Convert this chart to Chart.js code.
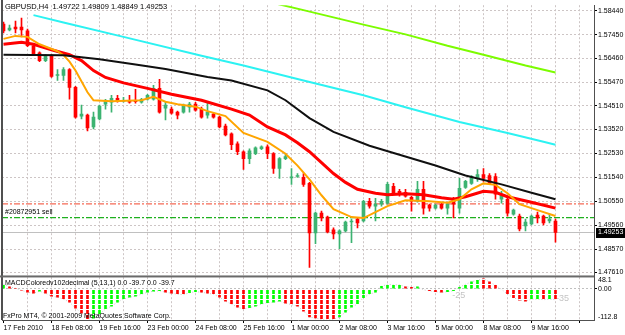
<!DOCTYPE html>
<html>
<head>
<meta charset="utf-8">
<script src="https://cdn.jsdelivr.net/npm/chart.js@4.4.1/dist/chart.umd.min.js"></script>
<style>
  html, body { margin: 0; padding: 0; background: #fff; }
  #wrap { width: 625px; height: 335px; }
  canvas { display: block; background: #fff; }
</style>
</head>
<body>
<div id="wrap"><canvas id="chart" width="625" height="335"></canvas></div>
<script>
// GBPUSD H4 candles with moving averages and a MACD pane, MT4 look

const timeLabels = ['17 Feb 2010', '18 Feb 08:00', '19 Feb 16:00', '23 Feb 00:00', '24 Feb 08:00', '25 Feb 16:00',
    '1 Mar 00:00', '2 Mar 08:00', '3 Mar 16:00', '5 Mar 00:00', '8 Mar 08:00', '9 Mar 16:00'];

const openP = [1.57889, 1.57643, 1.57766, 1.57766, 1.57602, 1.56987, 1.56700, 1.56372, 1.56577, 1.55757,
    1.55757, 1.56003, 1.55265, 1.54076, 1.54117, 1.53625, 1.53953, 1.54568, 1.54650, 1.54814,
    1.54691, 1.54732, 1.54732, 1.54650, 1.54773, 1.54773, 1.55224, 1.54404, 1.54363, 1.54240,
    1.54240, 1.54445, 1.54568, 1.54363, 1.54117, 1.54158, 1.54035, 1.53666, 1.53338, 1.52928,
    1.52600, 1.52313, 1.52518, 1.52723, 1.52805, 1.52518, 1.51903, 1.52313, 1.51514, 1.51575,
    1.51534, 1.51288, 1.49238, 1.50058, 1.49894, 1.49361, 1.49197, 1.49320, 1.49689, 1.49812,
    1.49730, 1.50550, 1.50345, 1.50427, 1.50468, 1.51165, 1.50960, 1.50919, 1.50714, 1.50550,
    1.51042, 1.50386, 1.50263, 1.50427, 1.50263, 1.50632, 1.50263, 1.51124, 1.51288, 1.51493,
    1.51657, 1.51616, 1.51575, 1.50632, 1.50632, 1.50017, 1.49935, 1.49525, 1.49607, 1.49976,
    1.49935, 1.49730, 1.49722];
const highP = [1.57971, 1.57848, 1.58012, 1.58135, 1.57684, 1.57028, 1.56741, 1.56618, 1.56618, 1.56003,
    1.56085, 1.56044, 1.55306, 1.54527, 1.54158, 1.54240, 1.54527, 1.54773, 1.54937, 1.54937,
    1.54855, 1.54937, 1.55183, 1.54814, 1.54978, 1.55347, 1.55593, 1.54650, 1.54445, 1.54281,
    1.54568, 1.54650, 1.54650, 1.54445, 1.54650, 1.54199, 1.54076, 1.53748, 1.53379, 1.53010,
    1.52641, 1.52723, 1.52805, 1.52846, 1.52887, 1.52559, 1.52354, 1.52518, 1.51903, 1.51698,
    1.51698, 1.51329, 1.50099, 1.50140, 1.49935, 1.49443, 1.49361, 1.49730, 1.49812, 1.49853,
    1.50591, 1.50673, 1.50673, 1.50632, 1.51329, 1.51288, 1.51042, 1.51042, 1.50755, 1.51370,
    1.51370, 1.50427, 1.50427, 1.50468, 1.50468, 1.50714, 1.51493, 1.51411, 1.51616, 1.51862,
    1.51903, 1.51698, 1.51698, 1.50960, 1.50714, 1.50222, 1.50017, 1.49812, 1.49976, 1.50099,
    1.49976, 1.50017, 1.49809];
const lowP = [1.57520, 1.57602, 1.57520, 1.57356, 1.56946, 1.56577, 1.56331, 1.56331, 1.55675, 1.55552,
    1.55552, 1.54773, 1.53994, 1.53953, 1.53461, 1.53543, 1.53912, 1.54363, 1.54240, 1.54650,
    1.54650, 1.54609, 1.54609, 1.54609, 1.54732, 1.54732, 1.54199, 1.53912, 1.54158, 1.53953,
    1.54199, 1.54240, 1.54281, 1.53994, 1.53994, 1.53994, 1.53584, 1.53256, 1.52682, 1.52477,
    1.51862, 1.52108, 1.52477, 1.52682, 1.52313, 1.51698, 1.51493, 1.52272, 1.51247, 1.51534,
    1.51165, 1.47803, 1.48787, 1.49730, 1.49238, 1.48992, 1.48582, 1.49279, 1.48828, 1.49443,
    1.49689, 1.50263, 1.49730, 1.50345, 1.50427, 1.50837, 1.50755, 1.50714, 1.50140, 1.50509,
    1.50017, 1.50140, 1.50222, 1.50222, 1.50017, 1.49853, 1.50058, 1.51083, 1.51247, 1.51370,
    1.51370, 1.51247, 1.50632, 1.50468, 1.49935, 1.49976, 1.49320, 1.49320, 1.49566, 1.49648,
    1.49566, 1.49648, 1.48849];
const closeP = [1.57602, 1.57725, 1.57684, 1.57643, 1.56987, 1.56618, 1.56372, 1.56577, 1.55716, 1.55798,
    1.56003, 1.55265, 1.54035, 1.54158, 1.53584, 1.54035, 1.54486, 1.54691, 1.54814, 1.54691,
    1.54732, 1.54650, 1.54670, 1.54773, 1.54937, 1.55224, 1.54240, 1.54527, 1.54199, 1.54117,
    1.54527, 1.54568, 1.54322, 1.54035, 1.54240, 1.54035, 1.53625, 1.53297, 1.52887, 1.52600,
    1.52313, 1.52641, 1.52764, 1.52805, 1.52518, 1.51903, 1.52313, 1.52395, 1.51555, 1.51616,
    1.51247, 1.49238, 1.50058, 1.49853, 1.49279, 1.49197, 1.49320, 1.49689, 1.49730, 1.49648,
    1.50550, 1.50345, 1.50427, 1.50550, 1.51247, 1.50878, 1.50837, 1.50755, 1.50550, 1.51042,
    1.50263, 1.50263, 1.50386, 1.50263, 1.50427, 1.50427, 1.51083, 1.51370, 1.51575, 1.51657,
    1.51493, 1.51288, 1.50837, 1.50796, 1.50058, 1.50181, 1.49402, 1.49689, 1.49935, 1.49853,
    1.49648, 1.49812, 1.49253];

const priceTicks = [1.58440, 1.57450, 1.56460, 1.55470, 1.54510, 1.53520, 1.52530, 1.51540,
    1.50550, 1.49560, 1.48570, 1.47610];

const limeBars = [42, 45, 50, 55, 60, 67, 74, 80, 87, 92];
const limeMA = [1.58935, 1.58758, 1.58463, 1.58164, 1.57864, 1.57459, 1.56987, 1.56618, 1.56167, 1.55880];
const cyanBars = [5, 10, 20, 33, 40, 50, 60, 67, 76, 84, 90, 92];
const cyanMA = [1.58258, 1.57951, 1.57356, 1.56577, 1.56167, 1.55552, 1.54937, 1.54445, 1.53830, 1.53379, 1.53010, 1.52887];
const blackBars = [0, 10, 16, 22, 27, 34, 38, 44, 47, 51, 55, 61, 66, 72, 77, 83, 88, 92];
const blackMA = [1.56618, 1.56598, 1.56434, 1.56208, 1.56024, 1.55696, 1.55552, 1.55142, 1.54732, 1.53994,
    1.53420, 1.52846, 1.52477, 1.52026, 1.51616, 1.51247, 1.50899, 1.50632];
const redBars = [0, 3, 5, 8, 11, 13, 15, 17, 20, 24, 28, 33, 38, 41, 44, 47, 49, 51, 53, 55,
    57, 59, 62, 64, 67, 70, 73, 75, 77, 80, 82, 84, 88, 92];
const redMA = [1.57049, 1.57131, 1.57049, 1.56823, 1.56618, 1.56372, 1.55962, 1.55675, 1.55449, 1.55224,
    1.54978, 1.54732, 1.54363, 1.54117, 1.53625, 1.53297, 1.52969, 1.52600, 1.52149, 1.51698,
    1.51329, 1.51042, 1.50878, 1.50817, 1.50858, 1.50817, 1.50694, 1.50632, 1.50734, 1.50960,
    1.50919, 1.50734, 1.50509, 1.50263];
const orangeBars = [0, 2, 4, 6, 9, 10, 11, 12, 14, 15, 18, 23, 25, 27, 29, 32, 34, 37, 40, 44,
    47, 49, 51, 53, 55, 58, 60, 62, 64, 67, 71, 74, 76, 78, 80, 82, 84, 86, 89, 92];
const orangeMA = [1.57274, 1.57397, 1.57356, 1.57049, 1.56762, 1.56598, 1.56331, 1.55962, 1.55060, 1.54732,
    1.54691, 1.54732, 1.54876, 1.54670, 1.54568, 1.54465, 1.54281, 1.54076, 1.53379, 1.53010,
    1.52518, 1.52026, 1.51452, 1.50796, 1.50222, 1.49894, 1.49853, 1.50099, 1.50345, 1.50591,
    1.50550, 1.50489, 1.50632, 1.51042, 1.51288, 1.51227, 1.50878, 1.50427, 1.50181, 1.49935];

// sell order #20872951: stop level and open price
const orderLevels = [1.50439, 1.49874];
const orderColors = ['#f56a55', '#1fb01f'];

// MACD histogram (points) and its colour flags (1 = green, 0 = red)
const macdHist = [16.1, 7.2, 1.8, -5.4, -12.5, -16.1, -9.0, -16.1, -26.9, -30.4,
    -37.6, -48.3, -69.7, -87.7, -110.0, -106.0, -91.3, -73.4, -62.7, -48.3,
    -37.6, -30.4, -26.9, -19.7, -12.5, -9.0, -7.2, -12.5, -16.1, -19.7,
    -21.5, -14.3, -10.7, -12.5, -16.1, -19.7, -30.4, -44.8, -55.5, -66.2,
    -73.4, -68.0, -62.7, -55.5, -50.1, -48.3, -44.8, -51.9, -57.3, -62.7,
    -80.6, -102.0, -105.6, -111.0, -112.8, -110.0, -102.0, -84.1, -66.2, -55.5,
    -32.2, -19.7, -12.5, 8.9, 16.1, 14.0, 14.3, 7.2, 5.4, 7.2,
    -3.6, -7.2, -10.7, -12.5, -10.7, -7.2, 5.4, 16.1, 25.1, 30.4,
    36.0, 25.1, 12.5, -1.8, -19.7, -32.2, -41.2, -44.8, -37.6, -37.6,
    -39.4, -37.6, -39.7];
const macdUp = [1, 0, 0, 0, 0, 0, 1, 0, 0, 0,
    0, 0, 0, 0, 0, 1, 1, 1, 1, 1,
    1, 1, 1, 1, 1, 1, 1, 0, 0, 0,
    0, 1, 1, 0, 0, 0, 0, 0, 0, 0,
    0, 1, 1, 1, 1, 1, 1, 0, 0, 0,
    0, 0, 0, 0, 0, 0, 1, 1, 1, 1,
    1, 1, 1, 1, 1, 1, 1, 0, 0, 1,
    0, 0, 0, 0, 1, 1, 1, 1, 1, 1,
    0, 0, 0, 0, 0, 0, 0, 0, 1, 1,
    0, 1, 0];
const macdMin = -112.8;
const macdMax = 48.1;
const noteText = ['-25', '-35'];
const noteBar = [74.8, 92.1];
const noteValue = [-25, -35];

const xMin = -0.25;
const xMax = 98.42;
const FONT = '"Liberation Sans", Arial, sans-serif';

Chart.defaults.font.family = FONT;
Chart.defaults.font.size = 7;
Chart.defaults.color = '#000';

const idx = closeP.map((_, i) => i);
const bidPrice = closeP[closeP.length - 1];
const candleColor = idx.map(i => closeP[i] >= openP[i] ? '#3cb371' : '#ff0000');

// histogram bars in MT4 come out with small breaks, mimic that with a pattern
function stripe(color) {
    const c = document.createElement('canvas');
    c.width = 2;
    c.height = 5;
    const g = c.getContext('2d');
    g.fillStyle = color;
    g.fillRect(0, 0, 2, 4);
    return g.createPattern(c, 'repeat');
}
const greenStripe = stripe('#00ff00');
const redStripe = stripe('#ff0000');

function pts(bars, vals) {
    return bars.map((b, k) => ({x: b, y: vals[k]}));
}

function maLine(bars, vals, color, width, order) {
    return {
        type: 'line', data: pts(bars, vals), yAxisID: 'y',
        borderColor: color, borderWidth: width, pointRadius: 0, tension: 0, order: order
    };
}

function flatLine(price, color, dash, width, order) {
    return {
        type: 'line', data: [{x: xMin, y: price}, {x: xMax, y: price}], yAxisID: 'y',
        borderColor: color, borderWidth: width, borderDash: dash, pointRadius: 0, order: order
    };
}

const mt4Decor = {
    id: 'mt4Decor',
    beforeDatasetsDraw(chart) {
        const {ctx, scales: {x, y2}} = chart;
        ctx.save();
        ctx.font = '9px ' + FONT;
        ctx.fillStyle = '#c4c4c4';
        ctx.textBaseline = 'middle';
        noteText.forEach((t, k) => {
            ctx.fillText(t, x.getPixelForValue(noteBar[k]), y2.getPixelForValue(noteValue[k]));
        });
        ctx.restore();
    },
    afterDraw(chart) {
        const {ctx, chartArea: a, scales: {y, y2}} = chart;
        ctx.save();
        // left frame and pane separator
        ctx.fillStyle = '#505050';
        ctx.fillRect(a.left - 1, 0, 2, a.bottom);
        ctx.fillStyle = '#6a6a6a';
        ctx.fillRect(0, y.bottom, a.right, 2);

        ctx.fillStyle = '#000';
        ctx.textBaseline = 'middle';
        ctx.font = '7.5px ' + FONT;
        const last = closeP.length - 1;
        ctx.fillText('GBPUSD,H4  ' + [openP[last], highP[last], lowP[last], closeP[last]].map(v => v.toFixed(5)).join(' '), 5, 7);

        ctx.font = '7px ' + FONT;
        ctx.fillText('#20872951 sell', 5, y.getPixelForValue(orderLevels[1]) - 5);
        const lastMacd = macdHist[macdHist.length - 1].toFixed(1);
        ctx.fillText('MACDColoredv102decimal (5,13,1) 0.0 ' + lastMacd + ' 0.0 ' + lastMacd, 5, y2.top + 8);
        ctx.fillText('FxPro MT4, \u00a9 2001-2009 MetaQuotes Software Corp.', 3, y2.bottom - 4);

        // MACD pane range labels, drawn inside the pane as MT4 does
        ctx.fillText(macdMax.toFixed(1), a.right + 4, y2.top + 5);
        ctx.fillText(macdMin.toFixed(1), a.right + 4, y2.bottom - 3);

        // current bid box on the price axis
        const by = y.getPixelForValue(bidPrice);
        ctx.fillStyle = '#000';
        ctx.fillRect(a.right + 2, Math.round(by) - 5, 31, 10);
        ctx.fillStyle = '#fff';
        ctx.fillText(bidPrice.toFixed(5), a.right + 4, by);
        ctx.restore();
    }
};

new Chart(document.getElementById('chart'), {
    data: {
        datasets: [
            maLine(limeBars, limeMA, '#7cfc00', 2, 1),
            maLine(cyanBars, cyanMA, '#2cf2f2', 2, 2),
            maLine(blackBars, blackMA, '#101010', 2, 3),
            maLine(orangeBars, orangeMA, '#ffa500', 2, 4),
            maLine(redBars, redMA, '#ff0000', 3, 5),
            {
                type: 'bar', yAxisID: 'y', order: 19, grouped: false,
                data: idx.map(i => ({x: i, y: [openP[i], closeP[i]]})),
                backgroundColor: candleColor, barThickness: 3, minBarLength: 1
            },
            {
                type: 'bar', yAxisID: 'y', order: 20, grouped: false,
                data: idx.map(i => ({x: i, y: [lowP[i], highP[i]]})),
                backgroundColor: candleColor, barThickness: 1
            },
            flatLine(orderLevels[0], orderColors[0], [6, 2, 2, 2], 1.3, 30),
            flatLine(orderLevels[1], orderColors[1], [6, 2, 2, 2], 1.3, 31),
            flatLine(bidPrice, '#c0c0c0', [], 1, 32),
            {
                type: 'bar', yAxisID: 'y2', order: 10, grouped: false,
                data: idx.map(i => ({x: i, y: macdHist[i]})),
                backgroundColor: macdUp.map(u => u ? greenStripe : redStripe), barThickness: 2
            },
            {
                type: 'line', yAxisID: 'y2', order: 11,
                data: idx.map(i => ({x: i, y: macdHist[i]})),
                borderColor: '#c8c8c8', borderWidth: 1, borderDash: [1, 2], pointRadius: 0
            }
        ]
    },
    options: {
        responsive: false,
        animation: false,
        devicePixelRatio: 1,
        events: [],
        layout: {padding: {left: 2, top: 2, right: 0, bottom: 0}},
        plugins: {legend: {display: false}, tooltip: {enabled: false}},
        scales: {
            x: {
                type: 'linear', min: xMin, max: xMax, offset: false,
                afterBuildTicks: s => {
                    s.ticks = [];
                    for (let v = 0; v <= 96; v += 4) s.ticks.push({value: v});
                },
                afterFit: s => { s.height = 15; },
                ticks: {
                    autoSkip: false, maxRotation: 0, minRotation: 0, align: 'start', padding: 1,
                    callback: v => v % 8 === 0 ? (timeLabels[v / 8] || '') : ''
                },
                grid: {
                    offset: false,
                    color: c => c.tick && c.tick.value === 0 ? 'rgba(0,0,0,0)' : '#cdc5c5',
                    tickColor: c => c.tick && c.tick.value % 8 === 0 ? '#000' : 'rgba(0,0,0,0)',
                    tickLength: 3
                },
                border: {color: '#505050', dash: [2, 2]}
            },
            y: {
                type: 'linear', position: 'right', stack: 'pane', stackWeight: 273,
                min: 1.47475, max: 1.58668,
                afterBuildTicks: s => { s.ticks = priceTicks.map(v => ({value: v})); },
                afterFit: s => { s.width = 31; },
                ticks: {padding: 1, callback: v => v.toFixed(5)},
                grid: {color: '#cdc5c5', tickColor: '#000', tickLength: 3},
                border: {color: '#505050', dash: [2, 2]}
            },
            y2: {
                type: 'linear', position: 'right', stack: 'pane', stackWeight: 45,
                min: macdMin, max: macdMax,
                afterBuildTicks: s => { s.ticks = [{value: 0}]; },
                afterFit: s => { s.width = 31; },
                ticks: {padding: 1, callback: () => '0.00'},
                grid: {color: '#c0c0c0', tickColor: '#000', tickLength: 3},
                border: {color: '#505050', dash: [2, 2]}
            }
        }
    },
    plugins: [mt4Decor]
});
</script>
</body>
</html>
